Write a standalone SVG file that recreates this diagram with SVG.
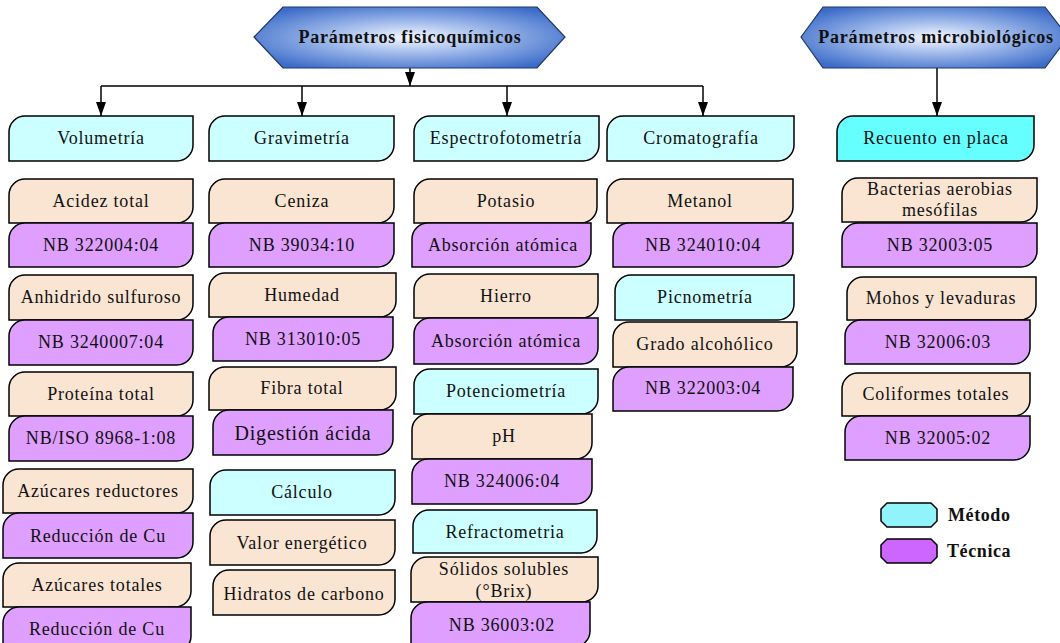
<svg xmlns="http://www.w3.org/2000/svg" width="1060" height="643" viewBox="0 0 1060 643">
  <defs>
    <radialGradient id="hdrFill" cx="50%" cy="50%" r="60%">
      <stop offset="0" stop-color="#F4F8FF"/>
      <stop offset="0.45" stop-color="#9DB8EA"/>
      <stop offset="1" stop-color="#3C6CC8"/>
    </radialGradient>
    <marker id="arrow" viewBox="0 0 10 14" refX="10" refY="5" markerWidth="10" markerHeight="14" markerUnits="userSpaceOnUse" orient="auto">
      <path d="M0,0 L14,5 L0,10 Z" fill="#000"/>
    </marker>
    <marker id="arr" viewBox="0 0 14 10" refX="14" refY="5" markerWidth="14" markerHeight="10" markerUnits="userSpaceOnUse" orient="auto">
      <path d="M0,0 L14,5 L0,10 Z" fill="#000"/>
    </marker>
  </defs>
  <style>
    .hdr { fill: url(#hdrFill); stroke: #1F3864; stroke-width: 1.2; }
    .hdr-t { font-family: "Liberation Serif", "Times New Roman", serif; font-weight: bold; font-size: 18px; letter-spacing: 0.8px; fill: #111; text-anchor: middle; }
    .box { stroke: #000; stroke-width: 1.5; }
    .m { fill: #CCFFFF; }
    .m2 { fill: #66FFFF; }
    .s { fill: #FAE5D3; }
    .t { fill: #DF9FFF; }
    .lbl { font-family: "Liberation Serif", "Times New Roman", serif; font-size: 18px; letter-spacing: 0.8px; fill: #111; text-anchor: middle; }
    .big { font-size: 20px; }
    .conn { stroke: #000; stroke-width: 1.5; fill: none; }
    .leg-t { font-family: "Liberation Serif", "Times New Roman", serif; font-weight: bold; font-size: 18px; letter-spacing: 0.6px; fill: #111; }
  </style>

  <!-- connectors -->
  <g id="connectors">
    <line class="conn" x1="410" y1="68" x2="410" y2="86" marker-end="url(#arr)"/>
    <line class="conn" x1="101" y1="86" x2="703" y2="86"/>
    <line class="conn" x1="101" y1="86" x2="101" y2="116" marker-end="url(#arr)"/>
    <line class="conn" x1="302" y1="86" x2="302" y2="116" marker-end="url(#arr)"/>
    <line class="conn" x1="507" y1="86" x2="507" y2="116" marker-end="url(#arr)"/>
    <line class="conn" x1="703" y1="86" x2="703" y2="116" marker-end="url(#arr)"/>
    <line class="conn" x1="937" y1="68" x2="937" y2="116" marker-end="url(#arr)"/>
  </g>

  <!-- headers -->
  <g id="hdr-fisicoquimicos">
    <path class="hdr" d="M254,37 L283,7 L537,7 L565,37 L537,68 L283,68 Z"/>
    <text class="hdr-t" x="410" y="43">Parámetros fisicoquímicos</text>
  </g>
  <g id="hdr-microbiologicos">
    <path class="hdr" d="M801,37 L823,7 L1045,7 L1068,37 L1045,68 L823,68 Z"/>
    <text class="hdr-t" x="936" y="43">Parámetros microbiológicos</text>
  </g>

  <!-- column: volumetría -->
  <g id="volumetria">
    <path class="box m" d="M9,161 V132 A16,16 0 0 1 25,116 H193 V145 A16,16 0 0 1 177,161 Z"/>
    <text class="lbl" x="101" y="144">Volumetría</text>
  </g>
  <g id="acidez">
    <path class="box s" d="M9,223 V195 A16,16 0 0 1 25,179 H193 V207 A16,16 0 0 1 177,223 Z"/>
    <text class="lbl" x="101" y="207">Acidez total</text>
  </g>
  <g id="nb322004">
    <path class="box t" d="M9,267 V239 A16,16 0 0 1 25,223 H193 V251 A16,16 0 0 1 177,267 Z"/>
    <text class="lbl" x="101" y="251">NB 322004:04</text>
  </g>
  <g id="anhidrido">
    <path class="box s" d="M9,320 V291 A16,16 0 0 1 25,275 H193 V304 A16,16 0 0 1 177,320 Z"/>
    <text class="lbl" x="101" y="303">Anhidrido sulfuroso</text>
  </g>
  <g id="nb3240007">
    <path class="box t" d="M9,365 V336 A16,16 0 0 1 25,320 H193 V349 A16,16 0 0 1 177,365 Z"/>
    <text class="lbl" x="101" y="348">NB 3240007:04</text>
  </g>
  <g id="proteina">
    <path class="box s" d="M9,416 V388 A16,16 0 0 1 25,372 H193 V400 A16,16 0 0 1 177,416 Z"/>
    <text class="lbl" x="101" y="400">Proteína total</text>
  </g>
  <g id="nbiso8968">
    <path class="box t" d="M9,461 V432 A16,16 0 0 1 25,416 H193 V445 A16,16 0 0 1 177,461 Z"/>
    <text class="lbl" x="101" y="444">NB/ISO 8968-1:08</text>
  </g>
  <g id="azucares-red">
    <path class="box s" d="M3,513 V485 A16,16 0 0 1 19,469 H193 V497 A16,16 0 0 1 177,513 Z"/>
    <text class="lbl" x="98" y="497">Azúcares reductores</text>
  </g>
  <g id="reduccion-cu-1">
    <path class="box t" d="M3,558 V529 A16,16 0 0 1 19,513 H193 V542 A16,16 0 0 1 177,558 Z"/>
    <text class="lbl" x="98" y="542">Reducción de Cu</text>
  </g>
  <g id="azucares-tot">
    <path class="box s" d="M3,607 V579 A16,16 0 0 1 19,563 H191 V591 A16,16 0 0 1 175,607 Z"/>
    <text class="lbl" x="97" y="591">Azúcares totales</text>
  </g>
  <g id="reduccion-cu-2">
    <path class="box t" d="M3,652 V623 A16,16 0 0 1 19,607 H191 V636 A16,16 0 0 1 175,652 Z"/>
    <text class="lbl" x="97" y="635">Reducción de Cu</text>
  </g>

  <!-- column: gravimetría -->
  <g id="gravimetria">
    <path class="box m" d="M209,161 V132 A16,16 0 0 1 225,116 H394 V145 A16,16 0 0 1 378,161 Z"/>
    <text class="lbl" x="302" y="144">Gravimetría</text>
  </g>
  <g id="ceniza">
    <path class="box s" d="M209,223 V195 A16,16 0 0 1 225,179 H394 V207 A16,16 0 0 1 378,223 Z"/>
    <text class="lbl" x="302" y="207">Ceniza</text>
  </g>
  <g id="nb39034">
    <path class="box t" d="M209,267 V239 A16,16 0 0 1 225,223 H394 V251 A16,16 0 0 1 378,267 Z"/>
    <text class="lbl" x="302" y="251">NB 39034:10</text>
  </g>
  <g id="humedad">
    <path class="box s" d="M209,317 V289 A16,16 0 0 1 225,273 H396 V301 A16,16 0 0 1 380,317 Z"/>
    <text class="lbl" x="302" y="301">Humedad</text>
  </g>
  <g id="nb313010">
    <path class="box t" d="M213,361 V333 A16,16 0 0 1 229,317 H393 V345 A16,16 0 0 1 377,361 Z"/>
    <text class="lbl" x="303" y="345">NB 313010:05</text>
  </g>
  <g id="fibra">
    <path class="box s" d="M209,410 V383 A16,16 0 0 1 225,367 H396 V394 A16,16 0 0 1 380,410 Z"/>
    <text class="lbl" x="302" y="394">Fibra total</text>
  </g>
  <g id="digestion">
    <path class="box t" d="M213,455 V426 A16,16 0 0 1 229,410 H393 V439 A16,16 0 0 1 377,455 Z"/>
    <text class="lbl big" x="303" y="440">Digestión ácida</text>
  </g>
  <g id="calculo">
    <path class="box m" d="M210,515 V486 A16,16 0 0 1 226,470 H395 V499 A16,16 0 0 1 379,515 Z"/>
    <text class="lbl" x="302" y="498">Cálculo</text>
  </g>
  <g id="valor-energetico">
    <path class="box s" d="M210,565 V536 A16,16 0 0 1 226,520 H395 V549 A16,16 0 0 1 379,565 Z"/>
    <text class="lbl" x="302" y="549">Valor energético</text>
  </g>
  <g id="hidratos">
    <path class="box s" d="M213,615 V586 A16,16 0 0 1 229,570 H395 V599 A16,16 0 0 1 379,615 Z"/>
    <text class="lbl" x="304" y="600">Hidratos de carbono</text>
  </g>

  <!-- column: espectrofotometría -->
  <g id="espectrofotometria">
    <path class="box m" d="M414,161 V132 A16,16 0 0 1 430,116 H599 V145 A16,16 0 0 1 583,161 Z"/>
    <text class="lbl" x="506" y="144">Espectrofotometría</text>
  </g>
  <g id="potasio">
    <path class="box s" d="M414,223 V195 A16,16 0 0 1 430,179 H597 V207 A16,16 0 0 1 581,223 Z"/>
    <text class="lbl" x="506" y="207">Potasio</text>
  </g>
  <g id="absorcion-1">
    <path class="box t" d="M412,267 V239 A16,16 0 0 1 428,223 H591 V251 A16,16 0 0 1 575,267 Z"/>
    <text class="lbl" x="503" y="251">Absorción atómica</text>
  </g>
  <g id="hierro">
    <path class="box s" d="M414,318 V290 A16,16 0 0 1 430,274 H598 V302 A16,16 0 0 1 582,318 Z"/>
    <text class="lbl" x="506" y="302">Hierro</text>
  </g>
  <g id="absorcion-2">
    <path class="box t" d="M414,364 V334 A16,16 0 0 1 430,318 H598 V348 A16,16 0 0 1 582,364 Z"/>
    <text class="lbl" x="506" y="347">Absorción atómica</text>
  </g>
  <g id="potenciometria">
    <path class="box m" d="M414,414 V385 A16,16 0 0 1 430,369 H598 V398 A16,16 0 0 1 582,414 Z"/>
    <text class="lbl" x="506" y="397">Potenciometría</text>
  </g>
  <g id="ph">
    <path class="box s" d="M412,459 V430 A16,16 0 0 1 428,414 H592 V443 A16,16 0 0 1 576,459 Z"/>
    <text class="lbl" x="504" y="442">pH</text>
  </g>
  <g id="nb324006">
    <path class="box t" d="M412,504 V475 A16,16 0 0 1 428,459 H592 V488 A16,16 0 0 1 576,504 Z"/>
    <text class="lbl" x="502" y="487">NB 324006:04</text>
  </g>
  <g id="refractometria">
    <path class="box m" d="M413,553 V526 A16,16 0 0 1 429,510 H597 V537 A16,16 0 0 1 581,553 Z"/>
    <text class="lbl" x="505" y="538">Refractometria</text>
  </g>
  <g id="solidos">
    <path class="box s" d="M411,602 V573 A16,16 0 0 1 427,557 H598 V586 A16,16 0 0 1 582,602 Z"/>
    <text class="lbl" x="504" y="575">Sólidos solubles</text>
    <text class="lbl" x="504" y="597">(°Brix)</text>
  </g>
  <g id="nb36003">
    <path class="box t" d="M411,647 V618 A16,16 0 0 1 427,602 H590 V631 A16,16 0 0 1 574,647 Z"/>
    <text class="lbl" x="502" y="631">NB 36003:02</text>
  </g>

  <!-- column: cromatografía -->
  <g id="cromatografia">
    <path class="box m" d="M607,161 V132 A16,16 0 0 1 623,116 H794 V145 A16,16 0 0 1 778,161 Z"/>
    <text class="lbl" x="701" y="144">Cromatografía</text>
  </g>
  <g id="metanol">
    <path class="box s" d="M607,223 V195 A16,16 0 0 1 623,179 H793 V207 A16,16 0 0 1 777,223 Z"/>
    <text class="lbl" x="700" y="207">Metanol</text>
  </g>
  <g id="nb324010">
    <path class="box t" d="M613,267 V239 A16,16 0 0 1 629,223 H793 V251 A16,16 0 0 1 777,267 Z"/>
    <text class="lbl" x="703" y="251">NB 324010:04</text>
  </g>
  <g id="picnometria">
    <path class="box m" d="M615,320 V291 A16,16 0 0 1 631,275 H794 V304 A16,16 0 0 1 778,320 Z"/>
    <text class="lbl" x="705" y="303">Picnometría</text>
  </g>
  <g id="grado-alcoholico">
    <path class="box s" d="M613,367 V338 A16,16 0 0 1 629,322 H797 V351 A16,16 0 0 1 781,367 Z"/>
    <text class="lbl" x="705" y="350">Grado alcohólico</text>
  </g>
  <g id="nb322003">
    <path class="box t" d="M613,411 V383 A16,16 0 0 1 629,367 H793 V395 A16,16 0 0 1 777,411 Z"/>
    <text class="lbl" x="703" y="394">NB 322003:04</text>
  </g>

  <!-- column: recuento en placa -->
  <g id="recuento">
    <path class="box m2" d="M837,161 V132 A16,16 0 0 1 853,116 H1034 V145 A16,16 0 0 1 1018,161 Z"/>
    <text class="lbl" x="936" y="144">Recuento en placa</text>
  </g>
  <g id="bacterias">
    <path class="box s" d="M842,222 V194 A16,16 0 0 1 858,178 H1037 V206 A16,16 0 0 1 1021,222 Z"/>
    <text class="lbl" x="940" y="195">Bacterias aerobias</text>
    <text class="lbl" x="940" y="216">mesófilas</text>
  </g>
  <g id="nb32003">
    <path class="box t" d="M842,267 V239 A16,16 0 0 1 858,223 H1037 V251 A16,16 0 0 1 1021,267 Z"/>
    <text class="lbl" x="940" y="251">NB 32003:05</text>
  </g>
  <g id="mohos">
    <path class="box s" d="M847,320 V293 A16,16 0 0 1 863,277 H1036 V304 A16,16 0 0 1 1020,320 Z"/>
    <text class="lbl" x="941" y="304">Mohos y levaduras</text>
  </g>
  <g id="nb32006">
    <path class="box t" d="M845,364 V336 A16,16 0 0 1 861,320 H1030 V348 A16,16 0 0 1 1014,364 Z"/>
    <text class="lbl" x="938" y="348">NB 32006:03</text>
  </g>
  <g id="coliformes">
    <path class="box s" d="M842,416 V389 A16,16 0 0 1 858,373 H1030 V400 A16,16 0 0 1 1014,416 Z"/>
    <text class="lbl" x="936" y="400">Coliformes totales</text>
  </g>
  <g id="nb32005">
    <path class="box t" d="M845,460 V432 A16,16 0 0 1 861,416 H1030 V444 A16,16 0 0 1 1014,460 Z"/>
    <text class="lbl" x="938" y="444">NB 32005:02</text>
  </g>

  <!-- legend -->
  <g id="legend">
    <path d="M887,503 H931 L937,509 V521 L931,527 H887 L881,521 V509 Z" fill="#90F4FA" stroke="#000" stroke-width="1.5" stroke-linejoin="round"/>
    <text class="leg-t" x="948" y="521">Método</text>
    <path d="M887,539 H931 L937,545 V557 L931,563 H887 L881,557 V545 Z" fill="#CC66FF" stroke="#000" stroke-width="1.5" stroke-linejoin="round"/>
    <text class="leg-t" x="947" y="557">Técnica</text>
  </g>
</svg>
